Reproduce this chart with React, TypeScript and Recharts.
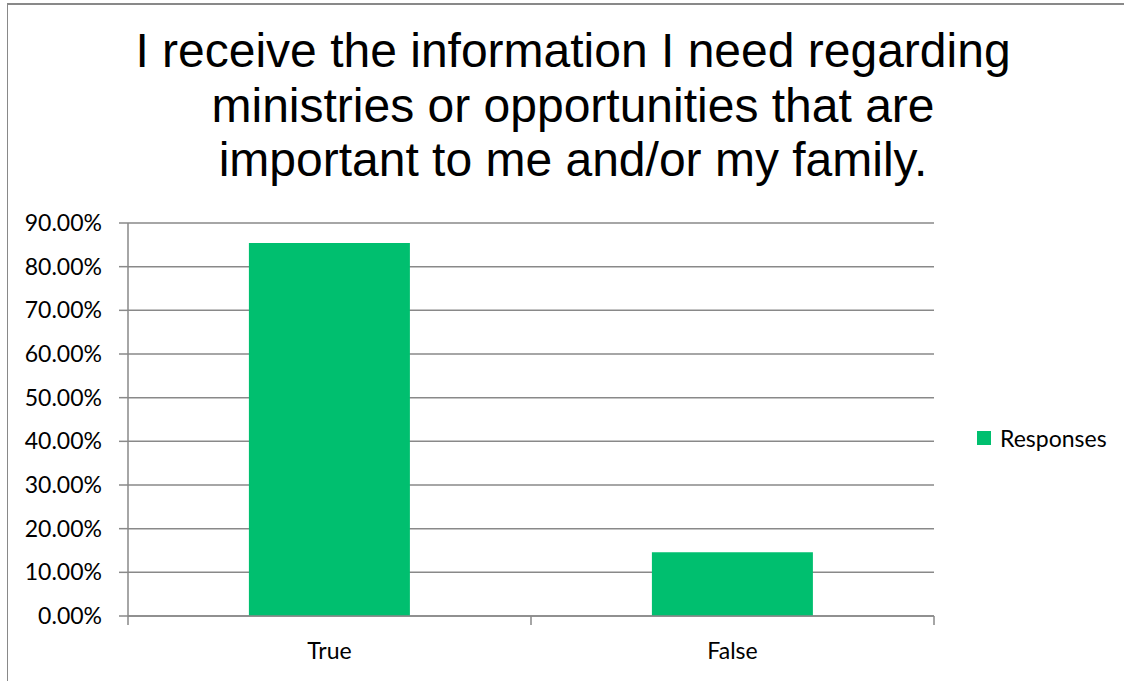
import React from "react";
import { BarChart, Bar, XAxis, YAxis, CartesianGrid, Legend } from "recharts";

const titleLines = [
  "I receive the information I need regarding",
  "ministries or opportunities that are",
  "important to me and/or my family.",
];
const categories = ["True", "False"];
const responses = [0.8542, 0.1458];
const yTicks = [0, 0.1, 0.2, 0.3, 0.4, 0.5, 0.6, 0.7, 0.8, 0.9];
const seriesName = "Responses";

const data = categories.map((c, i) => ({ category: c, value: responses[i] }));

const GRAY = "#898989";
const GREEN = "#00BF6F";
const TICK_FONT = "Lato, 'Open Sans', sans-serif";

const XTick = (props: any) => {
  const { x, y, payload, index, visibleTicksCount } = props;
  const off = payload && payload.offset ? payload.offset : 0;
  const axisY = y - 27;
  const isLast = index === visibleTicksCount - 1;
  return (
    <g>
      <line x1={x - off} x2={x - off} y1={axisY} y2={axisY + 9} stroke={GRAY} strokeWidth={1.5} />
      {isLast && (
        <line x1={x + off} x2={x + off} y1={axisY} y2={axisY + 9} stroke={GRAY} strokeWidth={1.5} />
      )}
      <text x={x} y={y} dy="0.71em" textAnchor="middle" fill="#000" fontSize={23} fontFamily={TICK_FONT}>
        {payload.value}
      </text>
    </g>
  );
};

const LegendContent = (props: any) => {
  const { payload } = props;
  return (
    <div style={{ display: "flex", flexDirection: "column" }}>
      {(payload || []).map((p: any) => (
        <div key={p.value} style={{ display: "flex", alignItems: "center" }}>
          <span style={{ display: "inline-block", width: 14, height: 14, background: p.color, marginRight: 9 }} />
          <span style={{ fontFamily: TICK_FONT, fontSize: 23, color: "#000", lineHeight: "24px" }}>{p.value}</span>
        </div>
      ))}
    </div>
  );
};

export default function App() {
  return (
    <div style={{ position: "absolute", left: 0, top: 0, width: 1124, height: 681, overflow: "hidden", background: "#fff" }}>
      <div
        style={{
          position: "absolute",
          left: 7,
          top: 3,
          width: 1130,
          height: 700,
          borderTop: `2px solid ${GRAY}`,
          borderLeft: `1px solid ${GRAY}`,
        }}
      />
      <div
        style={{
          position: "absolute",
          left: 0,
          width: 1146,
          top: 24,
          textAlign: "center",
          fontFamily: "'Liberation Sans', Arial, sans-serif",
          fontSize: 48,
          lineHeight: "54.5px",
          color: "#000",
        }}
      >
        {titleLines.map((l) => (
          <div key={l}>{l}</div>
        ))}
      </div>
      <div style={{ position: "absolute", left: 0, top: 0 }}>
        <BarChart
          width={1124}
          height={681}
          data={data}
          margin={{ top: 223, right: 43, bottom: 15, left: 0 }}
          barCategoryGap="30%"
        >
          <CartesianGrid vertical={false} stroke={GRAY} strokeWidth={1.5} />
          <XAxis
            dataKey="category"
            height={50}
            tickLine={false}
            axisLine={{ stroke: GRAY, strokeWidth: 1.5 }}
            tickSize={9}
            tickMargin={18}
            tick={<XTick />}
            interval={0}
          />
          <YAxis
            width={128}
            domain={[0, 0.9]}
            ticks={yTicks}
            allowDataOverflow
            axisLine={{ stroke: GRAY, strokeWidth: 1.5 }}
            tickLine={{ stroke: GRAY, strokeWidth: 1.5 }}
            tickSize={9}
            tickMargin={17}
            tickFormatter={(v: number) => `${(v * 100).toFixed(2)}%`}
            tick={{ fill: "#000", fontSize: 23, fontFamily: TICK_FONT }}
          />
          <Legend
            layout="vertical"
            align="right"
            verticalAlign="middle"
            content={<LegendContent />}
            wrapperStyle={{ position: "absolute", left: 977, top: 426, width: 147 }}
          />
          <Bar dataKey="value" name={seriesName} fill={GREEN} isAnimationActive={false} />
        </BarChart>
      </div>
    </div>
  );
}
